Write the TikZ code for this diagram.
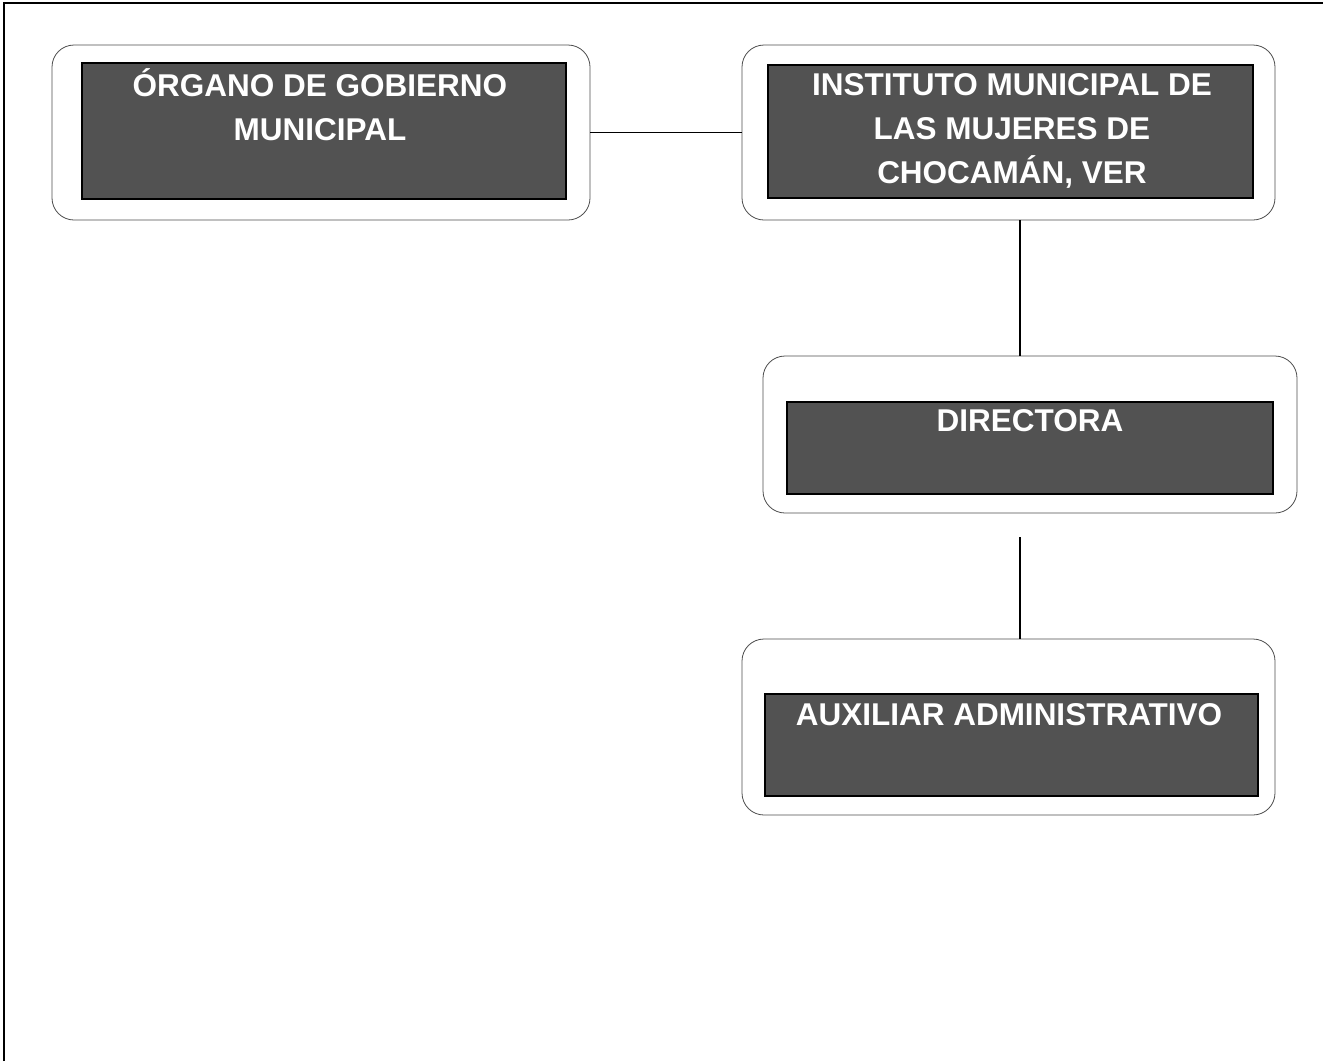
\documentclass[tikz,border=0pt]{standalone}
\usepackage{fontspec}
\setmainfont{Liberation Sans}
\usepackage{tikz}
\usetikzlibrary{positioning}

\begin{document}
\begin{tikzpicture}
               [x=1pt, y=-1pt,
                outerbox/.style = {draw=black!70, line width=0.8pt, rounded corners=22pt, inner sep=0pt},
                darkbox/.style = {draw=black, line width=1.2pt, fill=black!68, inner sep=0pt},
                title/.style = {text=white, align=center, inner sep=0pt, font=\bfseries\fontsize{31.5}{44}\selectfont},
                link/.style = {draw=black, line width=1.3pt}]
                \useasboundingbox (0,0) rectangle (1323,1061);
                % Page frame
                \draw[line width=2pt] (4,1061) -- (4,3) -- (1323,3);
                % Outer rounded boxes
                \node[outerbox, minimum width=538pt, minimum height=175pt] (organo) at (321,132.5) {};
                \node[outerbox, minimum width=533pt, minimum height=175pt] (instituto) at (1008.5,132.5) {};
                \node[outerbox, minimum width=534pt, minimum height=157pt] (directora) at (1030,434.5) {};
                \node[outerbox, minimum width=533pt, minimum height=176pt] (auxiliar) at (1008.5,727) {};
                % Dark panels
                \node[darkbox, minimum width=484pt, minimum height=136pt] (organoin) at (324,131) {};
                \node[darkbox, minimum width=485pt, minimum height=133pt] (institutoin) at (1010.5,131.5) {};
                \node[darkbox, minimum width=486pt, minimum height=92pt] (directorain) at (1030,448) {};
                \node[darkbox, minimum width=493pt, minimum height=102pt] (auxiliarin) at (1011.5,745) {};
                % Titles
                \node[title] (organotxt) at (320,105) {ÓRGANO DE GOBIERNO\\MUNICIPAL};
                \node[title] (institutotxt) at (1012,131) {INSTITUTO MUNICIPAL DE\\LAS MUJERES DE\\CHOCAMÁN, VER};
                \node[title] (directoratxt) at (1030,421) {DIRECTORA};
                \node[title] (auxiliartxt) at (1009,715) {AUXILIAR ADMINISTRATIVO};
                % Lines
                \coordinate (spine) at (1020,0);
                \coordinate (gap) at (1020,537);
                \path[link] (organo.east) edge (instituto.west);
                \path[link] (instituto.south -| spine) edge (directora.north -| spine);
                \path[link] (gap) edge (auxiliar.north -| gap);
            \end{tikzpicture}
\end{document}
